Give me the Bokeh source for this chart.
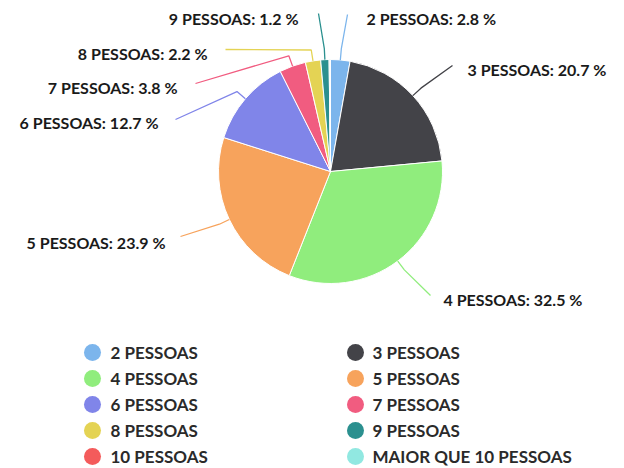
import math
from bokeh.plotting import figure
from bokeh.models import Range1d, ColumnDataSource
from bokeh.core.properties import value
from bokeh.embed import file_html
from bokeh.resources import INLINE

# ---- data ----
categories = ["2 PESSOAS", "3 PESSOAS", "4 PESSOAS", "5 PESSOAS", "6 PESSOAS",
              "7 PESSOAS", "8 PESSOAS", "9 PESSOAS", "10 PESSOAS", "MAIOR QUE 10 PESSOAS"]
percentages = [2.8, 20.7, 32.5, 23.9, 12.7, 3.8, 2.2, 1.2, 0.1, 0.1]
show_label = [True, True, True, True, True, True, True, True, False, False]

# ---- style ----
colors = ["#7cb5ec", "#434348", "#90ed7d", "#f7a35c", "#8085e9",
          "#f15c80", "#e4d354", "#2b908f", "#f45b5b", "#91e8e1"]
FONT = "Lato"
W_FIG, H_FIG = 624, 468


def sy(y):
    return H_FIG - y


p = figure(width=W_FIG, height=H_FIG, output_backend="svg", toolbar_location=None,
           x_range=Range1d(0, W_FIG), y_range=Range1d(0, H_FIG),
           min_border=0)
p.axis.visible = False
p.grid.visible = False
p.outline_line_color = None
p.background_fill_color = "white"

# pie layout
cx, cy, R = 330, sy(171), 112
total = sum(percentages)
starts, ends, mids = [], [], []
cum = 0.0
for v in percentages:
    a0 = math.pi / 2 - 2 * math.pi * cum / total
    cum += v
    a1 = math.pi / 2 - 2 * math.pi * cum / total
    starts.append(a1)
    ends.append(a0)
    mids.append((a0 + a1) / 2)

src = ColumnDataSource(dict(start=starts, end=ends, color=colors))
p.wedge(x=cx, y=cy, radius=R, start_angle="start", end_angle="end",
        direction="anticlock", fill_color="color", line_color="white",
        line_width=1, source=src)

# data label layout: (label x, label y (screen), align, connector end x, end y (screen))
label_layout = {
    0: (366, 18, "left", 347, 14),
    1: (467, 69, "left", 452, 65),
    2: (443, 299, "left", 430, 295),
    3: (165, 242, "right", 180, 236),
    4: (158, 122, "right", 175, 119),
    5: (177, 87, "right", 195, 83),
    6: (207, 53, "right", 225, 49),
    7: (298, 18, "right", 318, 13),
}

for i, cat in enumerate(categories):
    if not show_label[i]:
        continue
    lx, ly, align, ex, ey = label_layout[i]
    m = mids[i]
    px0, py0 = cx + R * math.cos(m), cy + R * math.sin(m)
    px1, py1 = cx + (R + 11) * math.cos(m), cy + (R + 11) * math.sin(m)
    p.line([px0, px1, ex], [py0, py1, sy(ey)], line_color=colors[i], line_width=1.3)
    p.text(x=[lx], y=[sy(ly)], text=[f"{cat}: {percentages[i]} %"],
           text_font=value(FONT), text_font_style="bold", text_font_size="16px",
           text_color="#1a1a1a", text_align=align, text_baseline="middle")

# legend
leg_cols = [(92, 110), (355, 372)]
leg_rows = [352, 378, 404, 430, 456]
for i, cat in enumerate(categories):
    col = i % 2
    row = i // 2
    mx, tx = leg_cols[col]
    yy = sy(leg_rows[row])
    p.scatter([mx], [yy], size=17, marker="circle", fill_color=colors[i], line_color=None)
    p.text(x=[tx], y=[yy], text=[cat], text_font=value(FONT), text_font_style="bold",
           text_font_size="17px", text_color="#2a2a2a", text_align="left",
           text_baseline="middle")

open("out.html", "w").write(file_html(p, INLINE))
